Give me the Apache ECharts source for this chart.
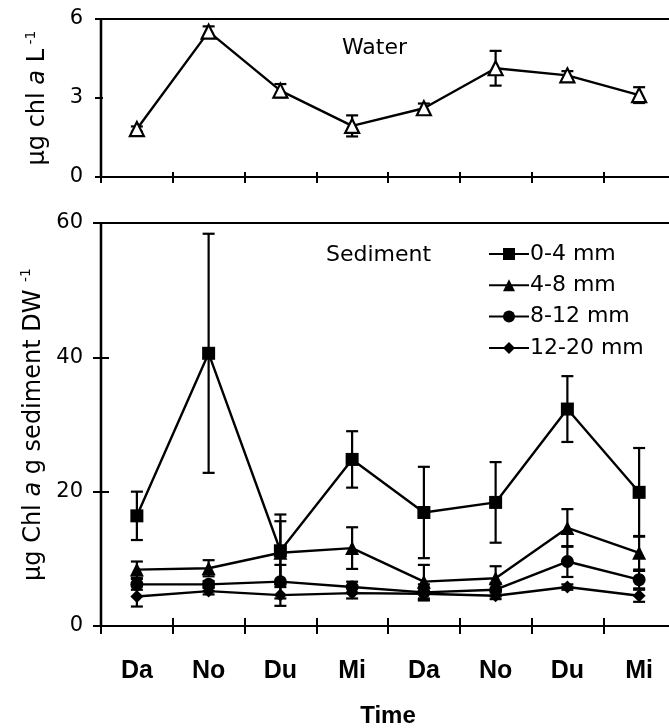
<!DOCTYPE html>
<html><head><meta charset="utf-8">
<script src="https://cdn.jsdelivr.net/npm/echarts@6/dist/echarts.min.js"></script>
<style>html,body{margin:0;padding:0;background:#fff}#c{width:669px;height:728px}</style>
</head><body><div id="c"></div>
<script>
// ---- data ----
const categories = ['Da','No','Du','Mi','Da','No','Du','Mi'];
const waterTicks = [0, 3, 6];
const sedimentTicks = [0, 20, 40, 60];
const water = [1.82, 5.52, 3.28, 1.94, 2.61, 4.13, 3.86, 3.11];
const waterErr = [0.1, 0.2, 0.25, 0.4, 0.18, 0.66, 0.16, 0.3];
const sed04 = [16.4, 40.6, 11.2, 24.8, 16.9, 18.4, 32.3, 19.9];
const sed04Err = [3.6, 17.8, 5.4, 4.2, 6.8, 6.0, 4.9, 6.6];
const sed48 = [8.4, 8.6, 10.9, 11.6, 6.6, 7.1, 14.6, 10.9];
const sed48Err = [1.2, 1.2, 4.7, 3.1, 2.5, 1.8, 2.8, 2.5];
const sed812 = [6.2, 6.2, 6.6, 5.8, 5.0, 5.4, 9.6, 6.9];
const sed812Err = [0.8, 0.5, 2.5, 0.8, 1.2, 1.0, 2.3, 1.3];
const sed1220 = [4.4, 5.2, 4.6, 4.9, 4.8, 4.5, 5.8, 4.5];
const sed1220Err = [1.5, 0.5, 1.6, 0.8, 0.9, 0.5, 0.4, 0.9];
const seriesNames = ['0-4 mm', '4-8 mm', '8-12 mm', '12-20 mm'];

// ---- chart ----
const FONT = 'DejaVu Sans';
const LW = 2.4;
const chart = echarts.init(document.getElementById('c'), null, {renderer: 'canvas'});

function errData(vals, errs) { return vals.map((v, i) => [i, v, errs[i]]); }
function errRender(params, api) {
  const x = api.value(0), v = api.value(1), e = api.value(2);
  const hi = api.coord([x, v + e]);
  const lo = api.coord([x, Math.max(0, v - e)]);
  const w = 6;
  const st = {stroke: '#000', lineWidth: 2.2};
  return {type: 'group', children: [
    {type: 'line', shape: {x1: hi[0], y1: hi[1], x2: lo[0], y2: lo[1]}, style: st},
    {type: 'line', shape: {x1: hi[0] - w, y1: hi[1], x2: hi[0] + w, y2: hi[1]}, style: st},
    {type: 'line', shape: {x1: lo[0] - w, y1: lo[1], x2: lo[0] + w, y2: lo[1]}, style: st}
  ]};
}
function errSeries(vals, errs, xi, yi) {
  return {type: 'custom', xAxisIndex: xi, yAxisIndex: yi, renderItem: errRender,
    data: errData(vals, errs), encode: {x: 0, y: 1}, z: 3, clip: false, silent: true};
}
const axisLine = {show: true, lineStyle: {color: '#000', width: 2.2}};
function xAx(grid, inside, len, labels, extra) {
  return Object.assign({
    type: 'category', gridIndex: grid, position: 'bottom', data: categories, boundaryGap: true,
    axisLine: axisLine,
    axisTick: {show: true, inside: inside, length: len, lineStyle: {color: '#000', width: 2}},
    axisLabel: labels ? {show: true, color: '#000', fontFamily: 'Liberation Sans', fontWeight: 'bold', fontSize: 25, margin: 33} : {show: false},
    splitLine: {show: false}
  }, extra || {});
}
function yAx(grid, inside, len, labels, min, max, interval, extra) {
  return Object.assign({
    type: 'value', gridIndex: grid, position: 'left', min: min, max: max, interval: interval,
    axisLine: axisLine,
    axisTick: {show: true, inside: inside, length: len, lineStyle: {color: '#000', width: 2}},
    axisLabel: labels ? {show: true, color: '#000', fontFamily: FONT, fontSize: 21, margin: 18} : {show: false},
    splitLine: {show: false}
  }, extra || {});
}
function makeRich(size) {
  return {
    n: {fontFamily: FONT, fontSize: size, color: '#000', lineHeight: 28},
    i: {fontFamily: FONT, fontSize: size, fontStyle: 'italic', color: '#000', lineHeight: 28},
    s: {fontFamily: FONT, fontSize: 14, color: '#000', lineHeight: 16, verticalAlign: 'top'}
  };
}

const option = {
  animation: false,
  backgroundColor: '#fff',
  grid: [
    {left: 101, right: -6, top: 19, height: 158, show: true, borderColor: '#000', borderWidth: 2.2,
      backgroundColor: 'transparent', outerBoundsMode: 'none', containLabel: false},
    {left: 101, right: -6, top: 223, height: 403, show: true, borderColor: '#000', borderWidth: 2.2,
      backgroundColor: 'transparent', outerBoundsMode: 'none', containLabel: false}
  ],
  xAxis: [
    xAx(0, true, 5, false),
    xAx(0, false, 6, false),
    xAx(1, true, 8, true, {name: 'Time', nameLocation: 'middle', nameGap: 78,
      nameTextStyle: {fontFamily: 'Liberation Sans', fontWeight: 'bold', fontSize: 24, color: '#000'}}),
    xAx(1, false, 8, false)
  ],
  yAxis: [
    yAx(0, false, 6, true, waterTicks[0], waterTicks[waterTicks.length - 1], waterTicks[1] - waterTicks[0], {
      name: '{n|µg chl }{i|a}{n| L}{s| -1}', nameLocation: 'middle', nameRotate: 90, nameGap: 49,
      nameTextStyle: {rich: makeRich(24)}}),
    yAx(0, true, 2, false, waterTicks[0], waterTicks[waterTicks.length - 1], waterTicks[1] - waterTicks[0]),
    yAx(1, false, 8, true, sedimentTicks[0], sedimentTicks[sedimentTicks.length - 1], sedimentTicks[1] - sedimentTicks[0], {
      name: '{n|µg Chl }{i|a}{n| g sediment DW }{s|-1}', nameLocation: 'middle', nameRotate: 90, nameGap: 52,
      nameTextStyle: {rich: makeRich(24)}}),
    yAx(1, true, 8, false, sedimentTicks[0], sedimentTicks[sedimentTicks.length - 1], sedimentTicks[1] - sedimentTicks[0])
  ],
  legend: {
    orient: 'vertical', left: 488, top: 243, padding: 0, itemWidth: 40, itemHeight: 15, itemGap: 9.3,
    data: seriesNames,
    textStyle: {fontFamily: FONT, fontSize: 22, color: '#000', lineHeight: 22, padding: [0, 0, 0, -4]},
    selectedMode: false
  },
  graphic: [
    {type: 'text', left: 342, top: 37, style: {text: 'Water', fontFamily: FONT, fontSize: 22, fill: '#000'}},
    {type: 'text', left: 326, top: 244, style: {text: 'Sediment', fontFamily: FONT, fontSize: 22, fill: '#000'}}
  ],
  series: [
    errSeries(water, waterErr, 0, 0),
    {type: 'line', name: 'Water', xAxisIndex: 0, yAxisIndex: 0, data: water, symbol: 'triangle', symbolSize: 14,
      itemStyle: {color: '#fff', borderColor: '#000', borderWidth: 2.2}, lineStyle: {color: '#000', width: LW}, z: 4},
    errSeries(sed04, sed04Err, 2, 2),
    errSeries(sed48, sed48Err, 2, 2),
    errSeries(sed812, sed812Err, 2, 2),
    errSeries(sed1220, sed1220Err, 2, 2),
    {type: 'line', name: seriesNames[0], xAxisIndex: 2, yAxisIndex: 2, data: sed04, symbol: 'rect', symbolSize: 13,
      itemStyle: {color: '#000'}, lineStyle: {color: '#000', width: LW}, z: 4},
    {type: 'line', name: seriesNames[1], xAxisIndex: 2, yAxisIndex: 2, data: sed48, symbol: 'triangle', symbolSize: 14,
      itemStyle: {color: '#000'}, lineStyle: {color: '#000', width: LW}, z: 4},
    {type: 'line', name: seriesNames[2], xAxisIndex: 2, yAxisIndex: 2, data: sed812, symbol: 'circle', symbolSize: 13,
      itemStyle: {color: '#000'}, lineStyle: {color: '#000', width: LW}, z: 4},
    {type: 'line', name: seriesNames[3], xAxisIndex: 2, yAxisIndex: 2, data: sed1220, symbol: 'diamond', symbolSize: 13,
      itemStyle: {color: '#000'}, lineStyle: {color: '#000', width: LW}, z: 4}
  ]
};
chart.setOption(option);
</script>
</body></html>
